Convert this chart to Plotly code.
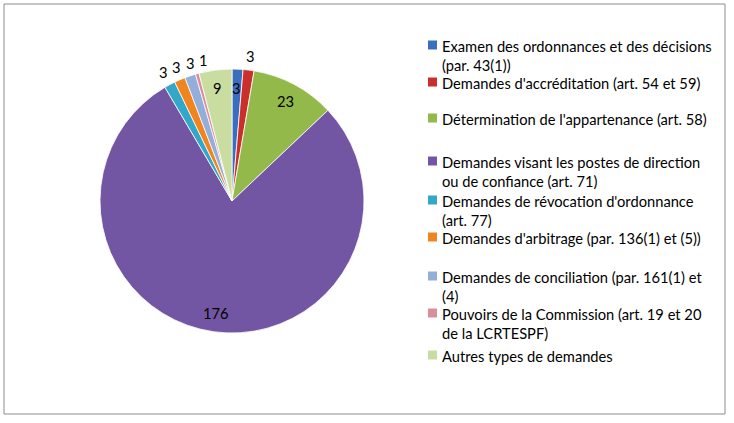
import math
import plotly.graph_objects as go

categories = [
    "Examen des ordonnances et des décisions<br>(par. 43(1))",
    "Demandes d'accréditation (art. 54 et 59)",
    "Détermination de l'appartenance (art. 58)",
    "Demandes visant les postes de direction<br>ou de confiance (art. 71)",
    "Demandes de révocation d'ordonnance<br>(art. 77)",
    "Demandes d'arbitrage (par. 136(1) et (5))",
    "Demandes de conciliation (par. 161(1) et<br>(4)",
    "Pouvoirs de la Commission (art. 19 et 20<br>de la LCRTESPF)",
    "Autres types de demandes",
]
values = [3, 3, 23, 176, 3, 3, 3, 1, 9]
colors = ['#3A6FC0', '#C9302C', '#92B94A', '#7356A3', '#33A7C8',
          '#F0851F', '#93AEDB', '#D98E99', '#CADDA0']
label_outside = [False, True, False, False, True, True, True, True, False]

W, H = 734, 423
FONT = "Lato"
FS = 14.7

cx, cy, r = 232, 201, 132

fig = go.Figure()
fig.add_trace(go.Pie(
    labels=[c.replace("<br>", " ") for c in categories],
    values=values,
    sort=False,
    direction='clockwise',
    rotation=0,
    marker=dict(colors=colors, line=dict(color='white', width=0.8)),
    textinfo='none',
    showlegend=False,
    hoverinfo='label+value',
    domain=dict(x=[(cx - r) / W, (cx + r) / W],
                y=[(H - cy - r) / H, (H - cy + r) / H]),
))

shapes = []
annotations = []

# data labels placed from slice mid-angles (Excel-like), outside ones spread apart
total = sum(values)
cum = 0
positions = []
for v, outside in zip(values, label_outside):
    mid = (cum + v / 2) / total * 2 * math.pi
    cum += v
    rad = r + 14 if outside else r * 0.86
    positions.append([cx + rad * math.sin(mid), cy - rad * math.cos(mid)])

out_idx = sorted([i for i, o in enumerate(label_outside) if o and positions[i][0] < cx],
                 key=lambda i: positions[i][0])
for a, b in zip(out_idx, out_idx[1:]):
    if positions[b][0] - positions[a][0] < 13.5:
        positions[b][0] = positions[a][0] + 13.5

for v, (px, py) in zip(values, positions):
    annotations.append(dict(xref='paper', yref='paper', x=px / W, y=1 - py / H,
                            xanchor='center', yanchor='middle', showarrow=False,
                            text=str(v),
                            font=dict(family=FONT, size=FS, color='black')))

# manual legend (Excel-like spacing)
legend_y = [45, 82, 118, 161, 200, 237, 276, 313, 355]  # first-line centers (px)
for cat, col, yc in zip(categories, colors, legend_y):
    shapes.append(dict(type='rect', xref='paper', yref='paper',
                       x0=428 / W, x1=437 / W,
                       y0=1 - (yc + 4.5) / H, y1=1 - (yc - 4.5) / H,
                       fillcolor=col, line=dict(color=col, width=0)))
    annotations.append(dict(xref='paper', yref='paper', x=440 / W,
                            y=1 - (yc - 10) / H, xanchor='left', yanchor='top',
                            align='left', showarrow=False, text=cat,
                            font=dict(family=FONT, size=FS, color='black')))

# chart border
shapes.append(dict(type='rect', xref='paper', yref='paper',
                   x0=4 / W, x1=725 / W, y0=1 - 414 / H, y1=1 - 4 / H,
                   line=dict(color='#8C8C8C', width=1), fillcolor='rgba(0,0,0,0)'))

fig.update_layout(
    width=W, height=H,
    margin=dict(l=0, r=0, t=0, b=0),
    paper_bgcolor='white', plot_bgcolor='white',
    shapes=shapes, annotations=annotations,
    font=dict(family=FONT, size=FS, color='black'),
)

fig.write_html("out.html")
